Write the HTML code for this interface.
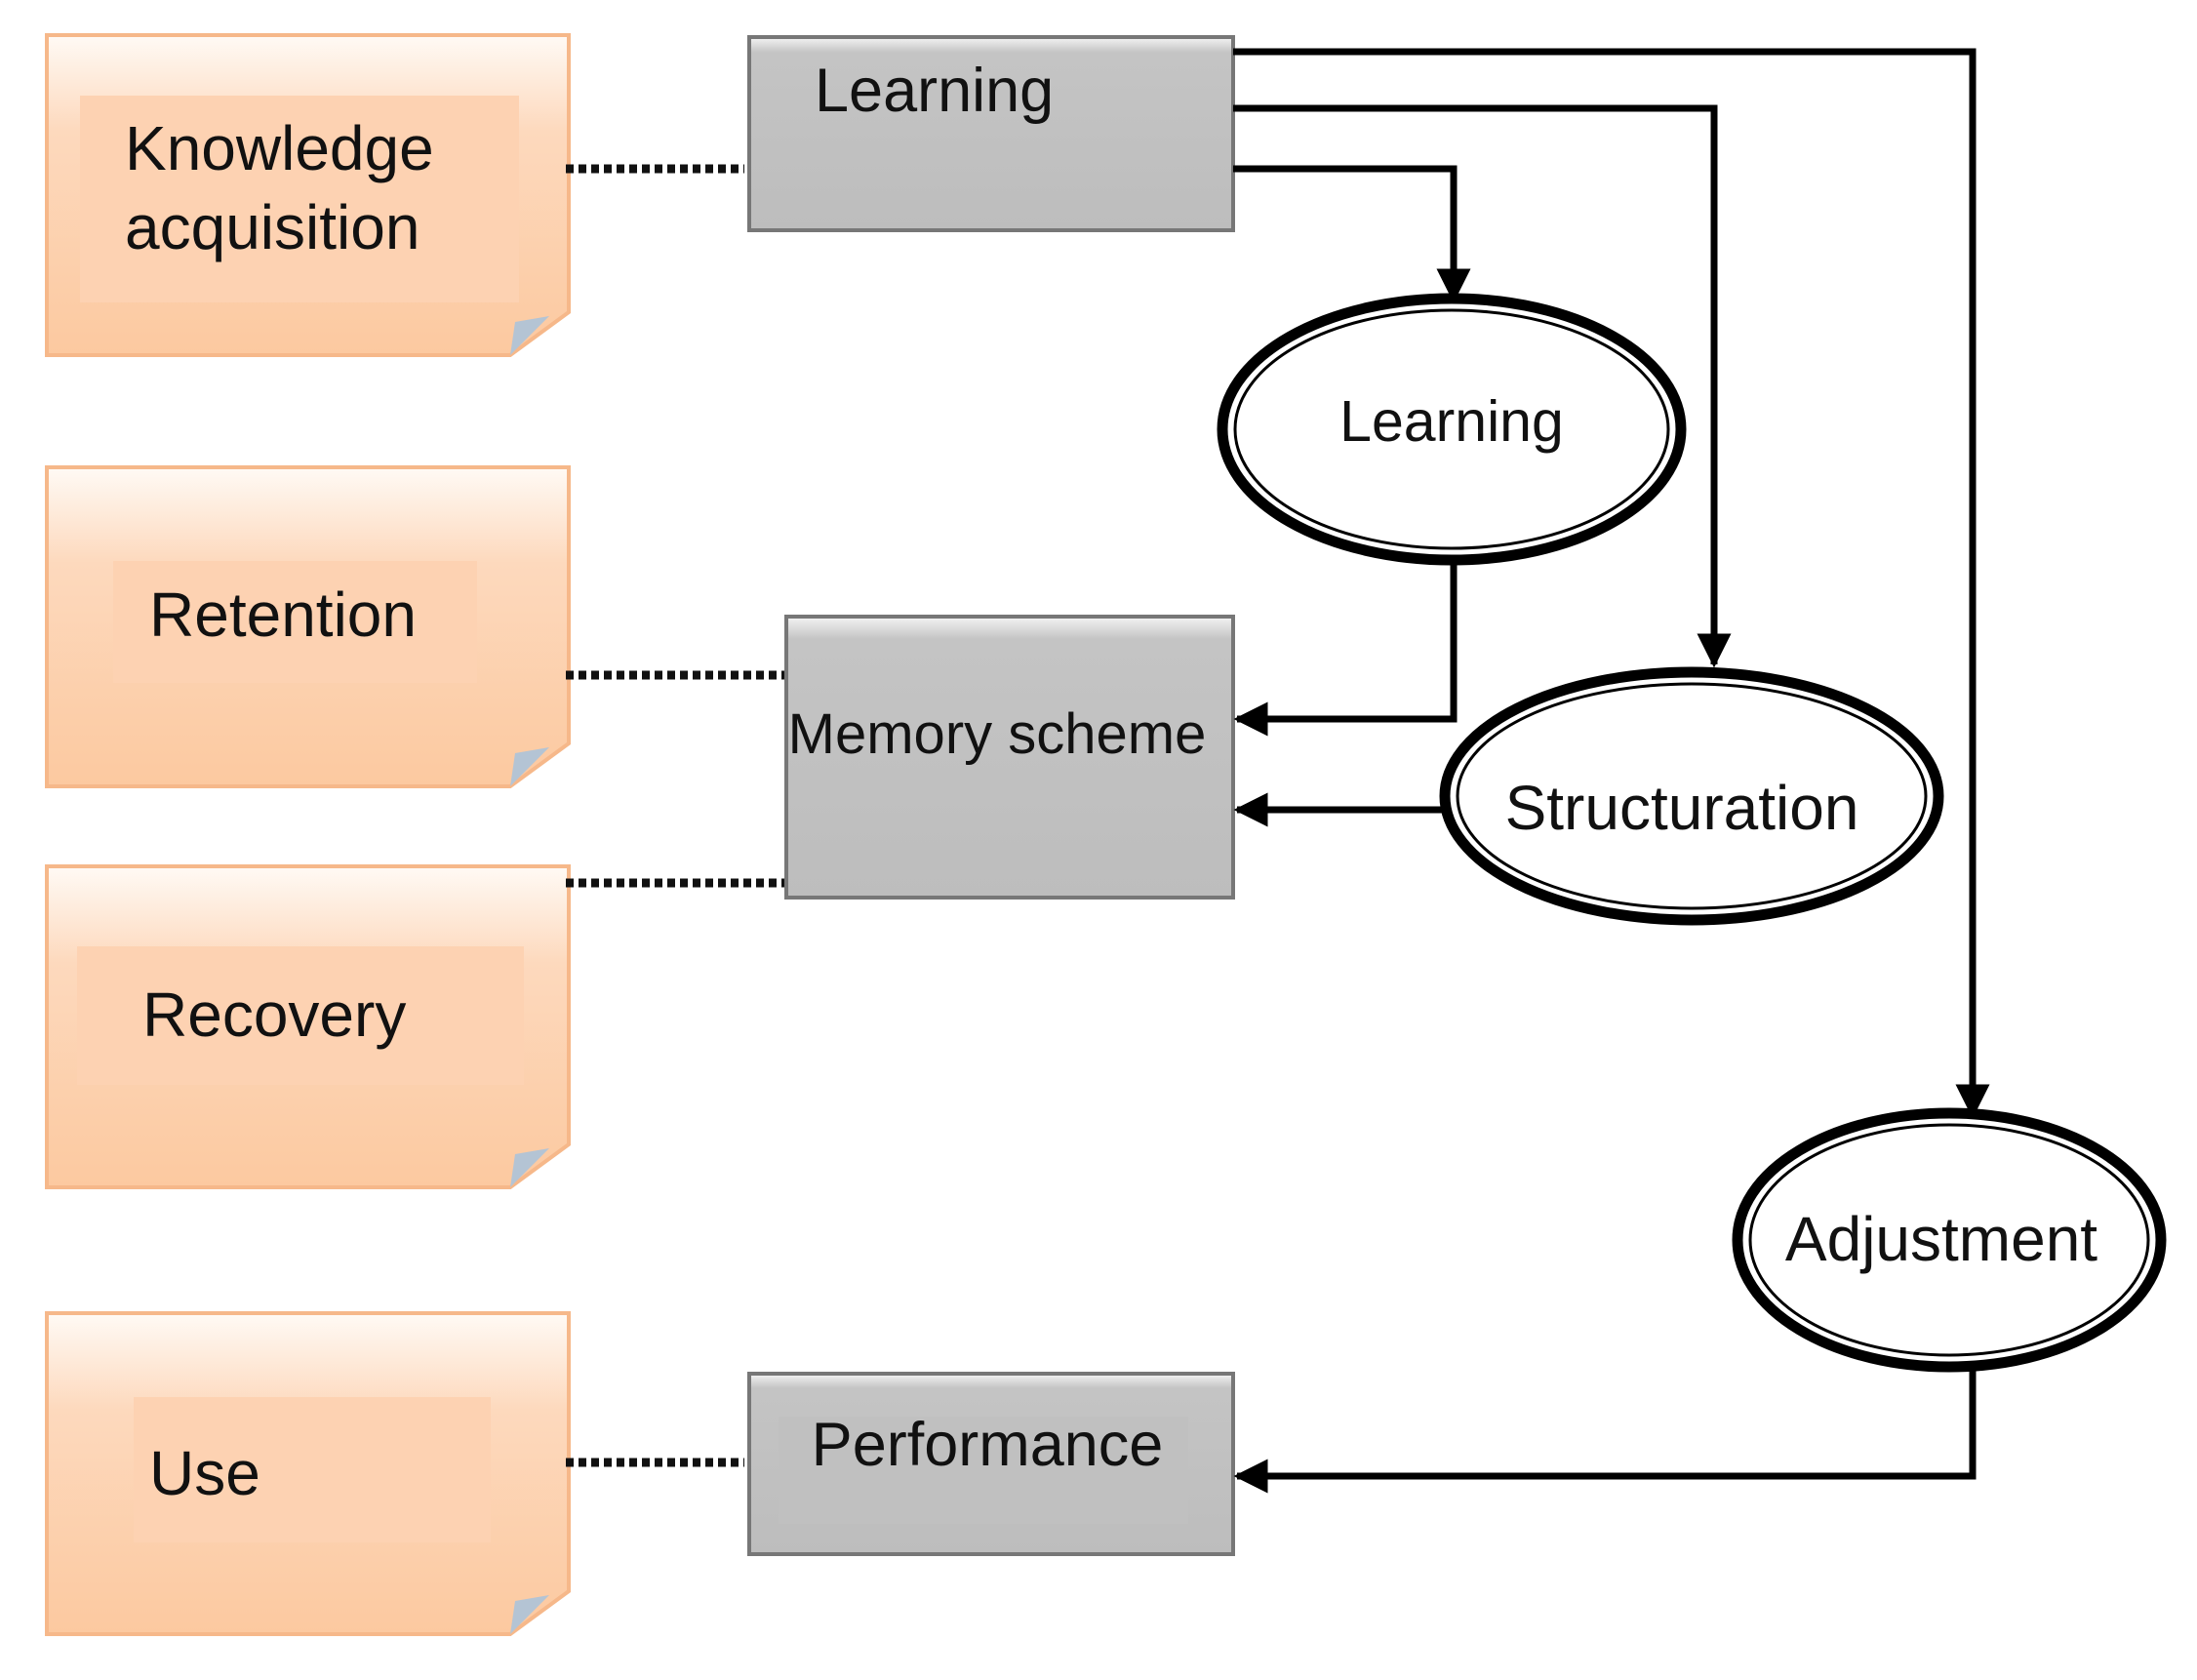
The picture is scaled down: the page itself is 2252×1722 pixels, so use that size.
<!DOCTYPE html>
<html><head><meta charset="utf-8"><style>
html,body{margin:0;padding:0;background:#fff;}
svg text{font-family:"Liberation Sans",sans-serif;fill:#111;}
</style></head><body>
<svg width="2252" height="1717" viewBox="0 0 2252 1717" xmlns="http://www.w3.org/2000/svg">
<defs>
<linearGradient id="note" x1="0" y1="0" x2="0" y2="1">
<stop offset="0" stop-color="#fffaf5"/><stop offset="0.3" stop-color="#fdd9bd"/><stop offset="1" stop-color="#fcc9a0"/>
</linearGradient>
<linearGradient id="gray" x1="0" y1="0" x2="0" y2="1">
<stop offset="0" stop-color="#f4f4f4"/><stop offset="0.08" stop-color="#c4c4c4"/><stop offset="1" stop-color="#bdbdbd"/>
</linearGradient>
<marker id="ah" markerWidth="5" markerHeight="5" refX="4.5" refY="2.5" orient="auto" markerUnits="strokeWidth">
<path d="M0,0 L5,2.5 L0,5 Z" fill="#000"/></marker>
</defs>

<g stroke="#f6b88a" stroke-width="4">
<path d="M48,36 H583 V320 L523,364 H48 Z" fill="url(#note)"/>
<path d="M48,479 H583 V762 L523,806 H48 Z" fill="url(#note)"/>
<path d="M48,888 H583 V1173 L523,1217 H48 Z" fill="url(#note)"/>
<path d="M48,1346 H583 V1631 L523,1675 H48 Z" fill="url(#note)"/>
</g>
<g fill="#fdd2b2">
<rect x="82" y="98" width="450" height="212"/>
<rect x="116" y="575" width="373" height="125"/>
<rect x="79" y="970" width="458" height="142"/>
<rect x="137" y="1432" width="366" height="149"/>
</g>
<g fill="#b4c4d4"><path d="M523,364 L528,330 L563,324 Z"/><path d="M523,806 L528,772 L563,766 Z"/><path d="M523,1217 L528,1183 L563,1177 Z"/><path d="M523,1675 L528,1641 L563,1635 Z"/></g>
<text x="128" y="174" font-size="64">Knowledge</text>
<text x="128" y="255" font-size="64">acquisition</text>
<text x="153" y="652" font-size="64">Retention</text>
<text x="146" y="1062" font-size="64">Recovery</text>
<text x="153" y="1532" font-size="64">Use</text>

<g stroke="#777" stroke-width="4" fill="url(#gray)">
<rect x="768" y="38" width="496" height="198"/>
<rect x="806" y="632" width="458" height="288"/>
<rect x="768" y="1408" width="496" height="185"/>
</g>
<rect x="798" y="1452" width="420" height="110" fill="#c0c0c0"/>
<text x="835" y="114" font-size="63">Learning</text>
<text x="1022" y="772" font-size="58" text-anchor="middle">Memory scheme</text>
<text x="1012" y="1502" font-size="63" text-anchor="middle">Performance</text>

<g stroke="#111" stroke-width="9" stroke-dasharray="8,5">
<line x1="580" y1="173" x2="763" y2="173"/>
<line x1="580" y1="692" x2="804" y2="692"/>
<line x1="580" y1="905" x2="804" y2="905"/>
<line x1="580" y1="1499" x2="763" y2="1499"/>
</g>

<g stroke="#000" stroke-width="7" fill="none" marker-end="url(#ah)">
<polyline points="1264,53 2022,53 2022,1143"/>
<polyline points="1264,111 1757,111 1757,681"/>
<polyline points="1264,173 1490,173 1490,307"/>
<polyline points="1490,578 1490,737 1268,737"/>
<polyline points="1480,830 1268,830"/>
<polyline points="2022,1400 2022,1513 1268,1513"/>
</g>

<g fill="#fff">
<ellipse cx="1488" cy="440" rx="235" ry="134" stroke="#000" stroke-width="11"/>
<ellipse cx="1488" cy="440" rx="222" ry="122" stroke="#000" stroke-width="3"/>
<ellipse cx="1734" cy="816" rx="253" ry="127" stroke="#000" stroke-width="11"/>
<ellipse cx="1734" cy="816" rx="240" ry="115" stroke="#000" stroke-width="3"/>
<ellipse cx="1998" cy="1271" rx="217" ry="130" stroke="#000" stroke-width="11"/>
<ellipse cx="1998" cy="1271" rx="204" ry="118" stroke="#000" stroke-width="3"/>
</g>
<text x="1488" y="452" font-size="59" text-anchor="middle">Learning</text>
<text x="1724" y="850" font-size="64" text-anchor="middle">Structuration</text>
<text x="1990" y="1292" font-size="64" text-anchor="middle">Adjustment</text>
</svg>
</body></html>
